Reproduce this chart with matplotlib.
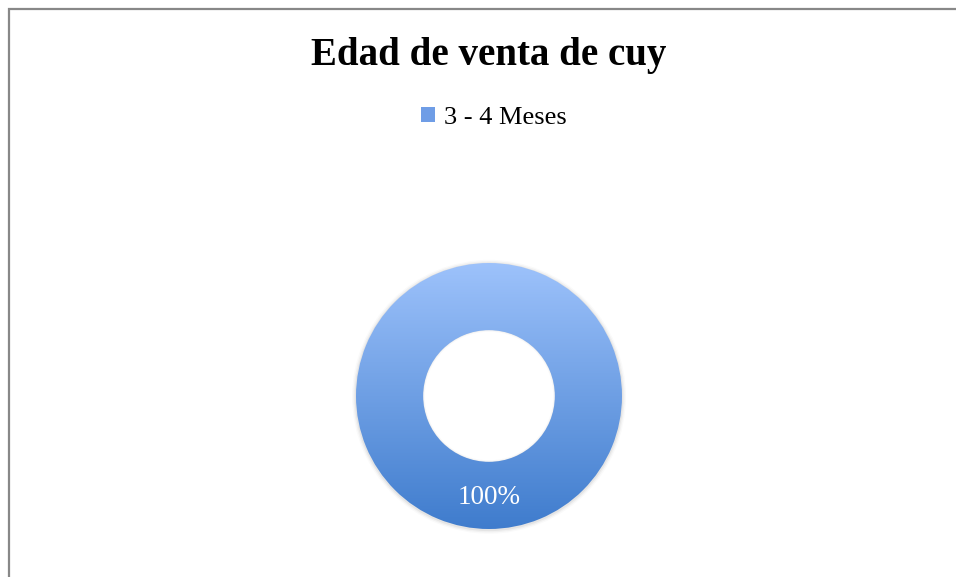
import numpy as np
import matplotlib
matplotlib.use('Agg')
import matplotlib.pyplot as plt
from matplotlib.patches import Patch, Rectangle
from matplotlib.colors import LinearSegmentedColormap

W, H = 956, 577

title = 'Edad de venta de cuy'
categories = ['3 - 4 Meses']
values = [100]

top_color = '#9dc2fb'
bottom_color = '#3f7ccd'
grad = LinearSegmentedColormap.from_list('grad', [bottom_color, top_color])

plt.rcParams['font.family'] = ['Liberation Serif', 'DejaVu Serif']

fig = plt.figure(figsize=(W / 100, H / 100), dpi=100)
fig.patches.append(Rectangle((8.5 / W, -0.1), 1.2, 1 - 8.5 / H + 0.1, transform=fig.transFigure,
                             fill=False, edgecolor='#888888', linewidth=1.6))

# donut axes: centre (489, 396) px, radius 133 px
cx, cy, r = 489, 396, 133
ax = fig.add_axes([(cx - r) / W, (H - cy - r) / H, 2 * r / W, 2 * r / H])
ax.axis('off')

# soft shadow
for i, a in enumerate([0.05, 0.035, 0.02]):
    ax.add_patch(plt.Circle((0, -0.006), 1.0 + 0.01 * (i + 1), color='black', alpha=a, lw=0,
                            zorder=0.2, clip_on=False))

wedges, texts, autotexts = ax.pie(values, radius=1.0, startangle=90, counterclock=False,
                                  autopct='%1.0f%%', pctdistance=0.76,
                                  wedgeprops=dict(width=0.505, facecolor='none', edgecolor='none'),
                                  textprops=dict(color='white', fontsize=19.5))
ax.add_patch(plt.Circle((0, 0), 0.497, color='white', lw=0, zorder=0.5))
for i, a in enumerate([0.04, 0.025]):
    ax.add_patch(plt.Circle((0, 0), 0.497 - 0.008 * i, fill=False, edgecolor='black', alpha=a,
                            lw=1.2, zorder=0.6))
gy = np.linspace(0, 1, 256).reshape(-1, 1)
im = ax.imshow(gy, cmap=grad, extent=[-1, 1, -1, 1], origin='lower', aspect='auto', zorder=1)
im.set_clip_path(wedges[0])
for t in autotexts:
    t.set_zorder(3)
ax.set_xlim(-1, 1)
ax.set_ylim(-1, 1)

fig.text(cx / W, 1 - 55 / H, title, ha='center', va='center', fontsize=28, fontweight='bold')

handles = [Patch(facecolor='#6f9de6', edgecolor='none', label=c) for c in categories]
fig.legend(handles=handles, loc='center', bbox_to_anchor=(494 / W, 1 - 118 / H), frameon=False,
           fontsize=19, handlelength=0.52, handleheight=0.52, handletextpad=0.35)

fig.savefig('out.png', dpi=100)
